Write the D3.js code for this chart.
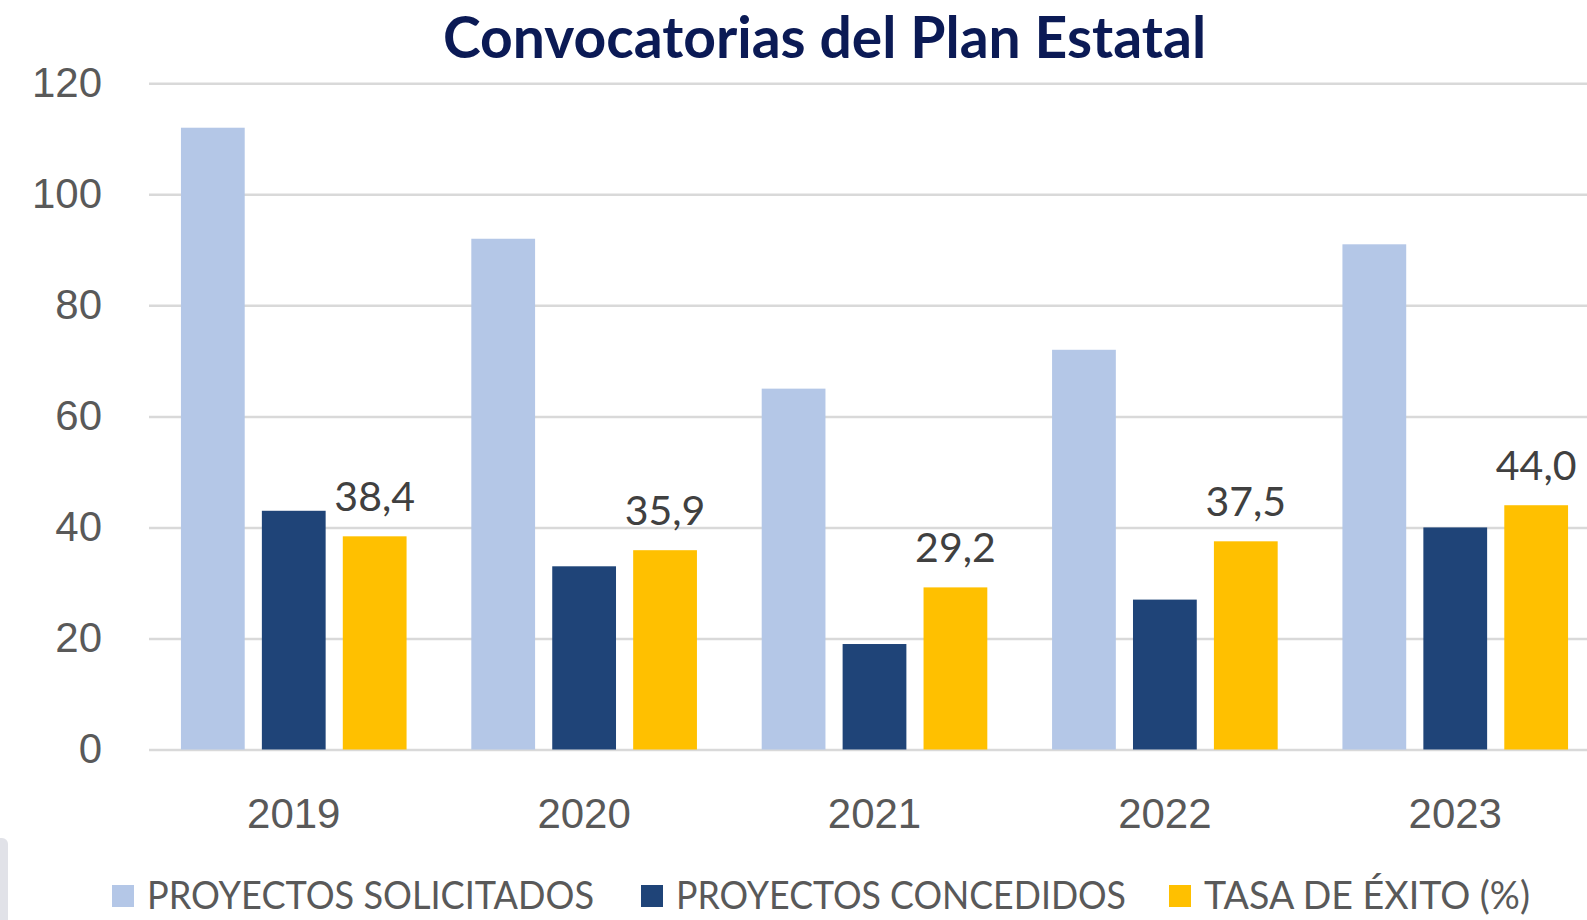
<!DOCTYPE html>
<html>
<head>
<meta charset="utf-8">
<script src="https://cdn.jsdelivr.net/npm/d3@7"></script>
<style>
  html, body { margin: 0; padding: 0; background: #fff; }
  svg { display: block; font-family: Lato, "Open Sans", sans-serif; }
</style>
</head>
<body>
<svg id="chart" width="1587" height="920"></svg>
<script>
const years = ["2019", "2020", "2021", "2022", "2023"];
const solicitados = [112, 92, 65, 72, 91];
const concedidos = [43, 33, 19, 27, 40];
const tasaExito = [38.4, 35.9, 29.2, 37.5, 44.0];
const seriesNames = ["PROYECTOS SOLICITADOS", "PROYECTOS CONCEDIDOS", "TASA DE ÉXITO (%)"];
const yTicks = [0, 20, 40, 60, 80, 100, 120];

(function () {
  const svg = d3.select("#chart");
  const colors = ["#B4C7E7", "#1F4478", "#FFC000"];
  const textGray = "#595959";

  const plotLeft = 149, plotRight = 1600;
  const y = d3.scaleLinear().domain([0, 120]).range([749.5, 83.3]);

  const x = d3.scaleBand()
    .domain(years)
    .range([plotLeft, plotRight])
    .paddingInner(0.223)
    .paddingOuter(0.11);

  const xs = d3.scaleBand()
    .domain(seriesNames)
    .range([0, x.bandwidth()])
    .paddingInner(0.212)
    .paddingOuter(0);

  const data = years.map((yr, i) => ({
    year: yr,
    values: [solicitados[i], concedidos[i], tasaExito[i]]
  }));

  // left edge artifact
  svg.append("rect")
    .attr("x", -8).attr("y", 838)
    .attr("width", 16).attr("height", 100)
    .attr("rx", 6)
    .attr("fill", "#E1E2E8");

  // gridlines + y labels
  const yAxis = svg.append("g")
    .attr("transform", `translate(${plotLeft},0)`)
    .call(d3.axisLeft(y).tickValues(yTicks).tickSize(-(1587 - plotLeft)).tickPadding(47));
  yAxis.select(".domain").remove();
  yAxis.selectAll(".tick line").attr("stroke", "#D9D9D9").attr("stroke-width", 2.5);
  yAxis.selectAll(".tick text")
    .attr("fill", textGray)
    .style("font-size", "42px");

  // bars
  const groups = svg.append("g")
    .selectAll("g.year")
    .data(data)
    .join("g")
    .attr("class", "year")
    .attr("transform", (d) => `translate(${x(d.year)},0)`);

  groups.selectAll("rect")
    .data((d) => d.values.map((v, k) => ({ key: seriesNames[k], value: v, k })))
    .join("rect")
    .attr("x", (d) => xs(d.key))
    .attr("y", (d) => y(d.value))
    .attr("width", xs.bandwidth())
    .attr("height", (d) => y(0) - y(d.value))
    .attr("fill", (d) => colors[d.k]);

  // data labels on success rate
  groups.append("text")
    .attr("x", xs(seriesNames[2]) + xs.bandwidth() / 2)
    .attr("y", (d) => y(d.values[2]) - 25)
    .attr("text-anchor", "middle")
    .attr("fill", "#404040")
    .style("font-size", "41px")
    .text((d) => d.values[2].toFixed(1).replace(".", ","));

  // x axis labels
  const xAxis = svg.append("g")
    .attr("transform", `translate(0,${y(0)})`)
    .call(d3.axisBottom(x).tickSize(0).tickPadding(49));
  xAxis.select(".domain").remove();
  xAxis.selectAll(".tick text")
    .attr("fill", textGray)
    .style("font-size", "42px");

  // title
  svg.append("text")
    .attr("x", 824.5)
    .attr("y", 58)
    .attr("text-anchor", "middle")
    .attr("fill", "#0B1A55")
    .style("font-size", "57px")
    .style("font-weight", "bold")
    .text("Convocatorias del Plan Estatal");

  // legend
  const legendX = [112, 641, 1169];
  const legendW = [447, 450, 326];
  const legend = svg.append("g")
    .selectAll("g")
    .data(seriesNames)
    .join("g")
    .attr("transform", (d, i) => `translate(${legendX[i]},885)`);
  legend.append("rect")
    .attr("width", 22).attr("height", 22)
    .attr("fill", (d, i) => colors[i]);
  legend.append("text")
    .attr("x", 35)
    .attr("y", 24)
    .attr("fill", textGray)
    .style("font-size", "39px")
    .attr("textLength", (d, i) => legendW[i])
    .attr("lengthAdjust", "spacingAndGlyphs")
    .text((d) => d);
})();
</script>
</body>
</html>
